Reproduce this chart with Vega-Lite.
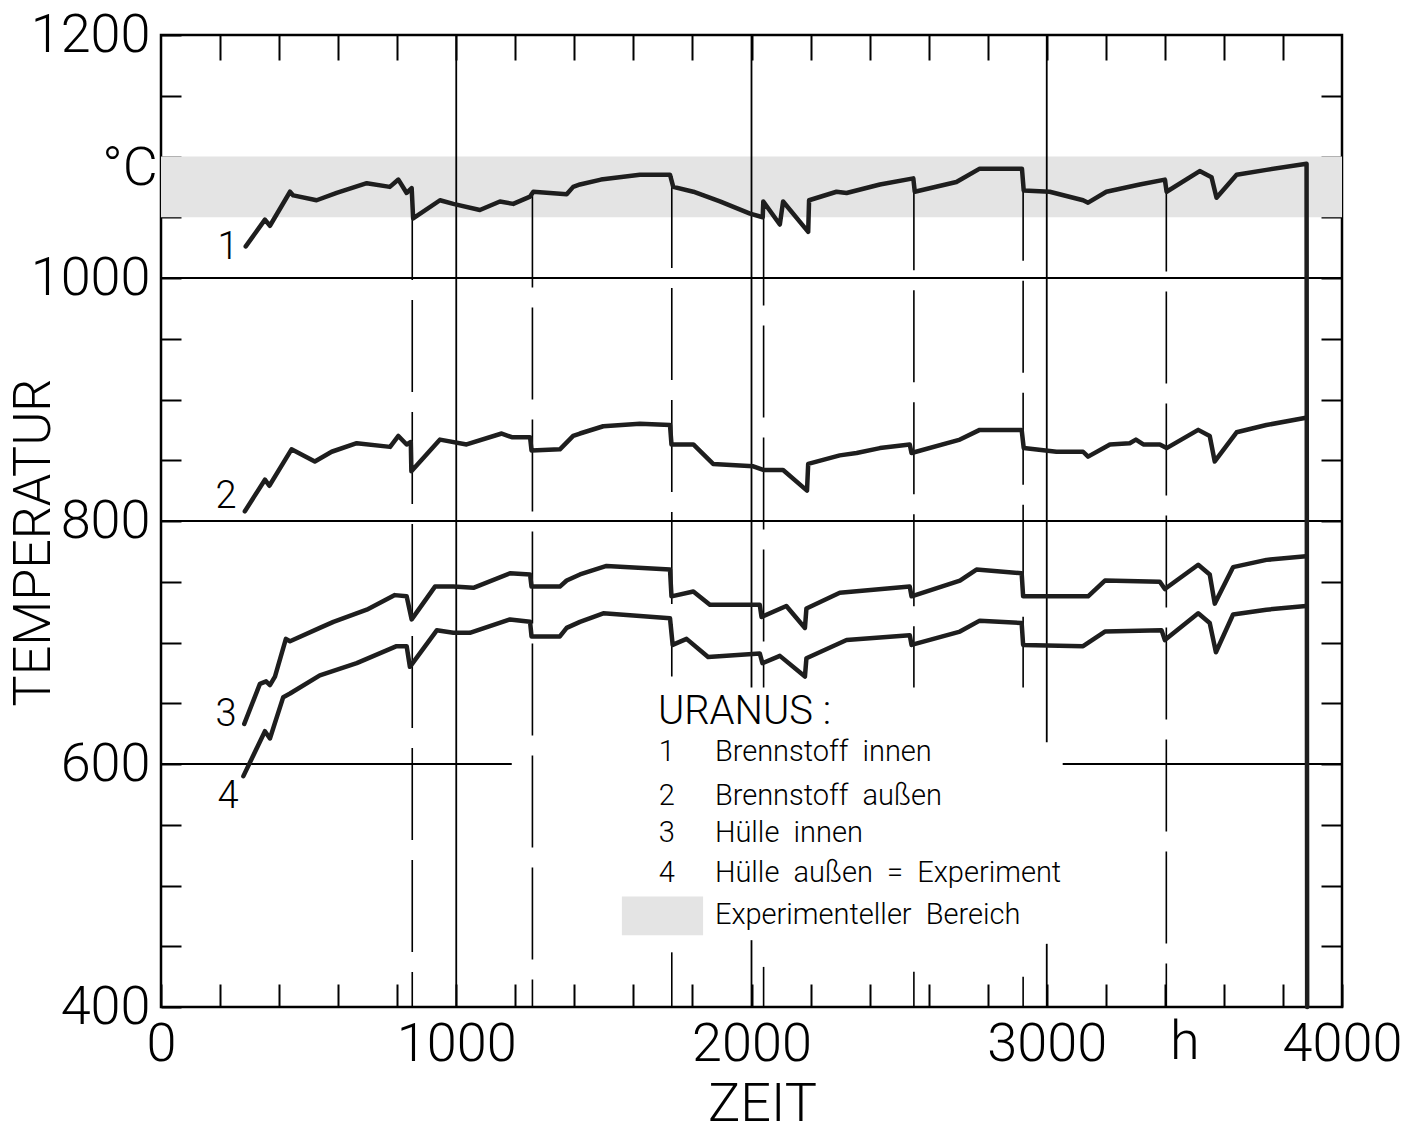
{
  "$schema": "https://vega.github.io/schema/vega-lite/v6.json",
  "width": 1181,
  "height": 972,
  "autosize": {"type": "none"},
  "padding": {"left": 161, "top": 35, "right": 71, "bottom": 126},
  "background": "white",
  "config": {
    "view": {"stroke": "black", "strokeWidth": 2.5},
    "font": "Roboto",
    "axis": {"domain": false, "grid": false, "tickColor": "black", "tickWidth": 2, "labelColor": "black", "titleColor": "black", "labelFont": "Roboto", "titleFont": "Roboto", "labelFontWeight": 300, "titleFontWeight": 300}
  },
  "datasets": {
    "band": [{"x0": 0, "x1": 4000, "t0": 1050, "t1": 1100}],
    "hgrid": [
      {"x0": 0, "x1": 4000, "t": 1000},
      {"x0": 0, "x1": 4000, "t": 800},
      {"x0": 0, "x1": 1188, "t": 600},
      {"x0": 3054, "x1": 4000, "t": 600}
    ],
    "vgrid": [
      {"h": 1000, "t0": 400, "t1": 1200},
      {"h": 2000, "t0": 663, "t1": 1200},
      {"h": 2000, "t0": 400, "t1": 455},
      {"h": 3000, "t0": 618, "t1": 1200},
      {"h": 3000, "t0": 400, "t1": 452}
    ],
    "breaks": [
      {"h": 851, "t0": 400, "t1": 1074},
      {"h": 1258, "t0": 400, "t1": 1068},
      {"h": 1730, "t0": 672, "t1": 1084},
      {"h": 1730, "t0": 400, "t1": 445},
      {"h": 2041, "t0": 663, "t1": 1053},
      {"h": 2041, "t0": 400, "t1": 433},
      {"h": 2550, "t0": 663, "t1": 1082},
      {"h": 2550, "t0": 400, "t1": 429},
      {"h": 2920, "t0": 663, "t1": 1090},
      {"h": 2920, "t0": 400, "t1": 425},
      {"h": 3405, "t0": 400, "t1": 1081}
    ],
    "temps": [
      {"s": "1", "h": 287, "t": 1026}, {"s": "1", "h": 352, "t": 1048}, {"s": "1", "h": 369, "t": 1043},
      {"s": "1", "h": 437, "t": 1071}, {"s": "1", "h": 448, "t": 1068}, {"s": "1", "h": 527, "t": 1064},
      {"s": "1", "h": 595, "t": 1070}, {"s": "1", "h": 697, "t": 1078}, {"s": "1", "h": 775, "t": 1075},
      {"s": "1", "h": 804, "t": 1081}, {"s": "1", "h": 832, "t": 1070}, {"s": "1", "h": 849, "t": 1074},
      {"s": "1", "h": 854, "t": 1049}, {"s": "1", "h": 945, "t": 1064}, {"s": "1", "h": 990, "t": 1061},
      {"s": "1", "h": 1080, "t": 1056}, {"s": "1", "h": 1148, "t": 1063}, {"s": "1", "h": 1193, "t": 1061},
      {"s": "1", "h": 1250, "t": 1067}, {"s": "1", "h": 1261, "t": 1071}, {"s": "1", "h": 1374, "t": 1069},
      {"s": "1", "h": 1396, "t": 1075}, {"s": "1", "h": 1419, "t": 1077}, {"s": "1", "h": 1490, "t": 1081},
      {"s": "1", "h": 1622, "t": 1085}, {"s": "1", "h": 1724, "t": 1085}, {"s": "1", "h": 1735, "t": 1075},
      {"s": "1", "h": 1803, "t": 1071}, {"s": "1", "h": 1893, "t": 1063}, {"s": "1", "h": 1995, "t": 1053},
      {"s": "1", "h": 2038, "t": 1050}, {"s": "1", "h": 2040, "t": 1063}, {"s": "1", "h": 2096, "t": 1044},
      {"s": "1", "h": 2107, "t": 1063}, {"s": "1", "h": 2192, "t": 1038}, {"s": "1", "h": 2195, "t": 1064},
      {"s": "1", "h": 2288, "t": 1071}, {"s": "1", "h": 2322, "t": 1070}, {"s": "1", "h": 2435, "t": 1077},
      {"s": "1", "h": 2548, "t": 1082}, {"s": "1", "h": 2553, "t": 1071}, {"s": "1", "h": 2694, "t": 1079},
      {"s": "1", "h": 2773, "t": 1090}, {"s": "1", "h": 2916, "t": 1090}, {"s": "1", "h": 2922, "t": 1072},
      {"s": "1", "h": 3010, "t": 1071}, {"s": "1", "h": 3123, "t": 1064}, {"s": "1", "h": 3140, "t": 1062},
      {"s": "1", "h": 3202, "t": 1071}, {"s": "1", "h": 3315, "t": 1077}, {"s": "1", "h": 3400, "t": 1081},
      {"s": "1", "h": 3406, "t": 1071}, {"s": "1", "h": 3518, "t": 1088}, {"s": "1", "h": 3558, "t": 1083},
      {"s": "1", "h": 3575, "t": 1066}, {"s": "1", "h": 3643, "t": 1085}, {"s": "1", "h": 3744, "t": 1089},
      {"s": "1", "h": 3880, "t": 1094}, {"s": "1", "h": 3882, "t": 400},

      {"s": "2", "h": 284, "t": 808}, {"s": "2", "h": 352, "t": 834}, {"s": "2", "h": 367, "t": 829},
      {"s": "2", "h": 442, "t": 859}, {"s": "2", "h": 521, "t": 849}, {"s": "2", "h": 578, "t": 857},
      {"s": "2", "h": 663, "t": 864}, {"s": "2", "h": 776, "t": 861}, {"s": "2", "h": 804, "t": 870},
      {"s": "2", "h": 832, "t": 863}, {"s": "2", "h": 846, "t": 865}, {"s": "2", "h": 848, "t": 841},
      {"s": "2", "h": 945, "t": 867}, {"s": "2", "h": 1035, "t": 863}, {"s": "2", "h": 1154, "t": 872},
      {"s": "2", "h": 1188, "t": 869}, {"s": "2", "h": 1250, "t": 869}, {"s": "2", "h": 1255, "t": 858},
      {"s": "2", "h": 1351, "t": 859}, {"s": "2", "h": 1396, "t": 870}, {"s": "2", "h": 1419, "t": 872},
      {"s": "2", "h": 1498, "t": 878}, {"s": "2", "h": 1622, "t": 880}, {"s": "2", "h": 1724, "t": 879},
      {"s": "2", "h": 1729, "t": 863}, {"s": "2", "h": 1803, "t": 863}, {"s": "2", "h": 1870, "t": 847},
      {"s": "2", "h": 2006, "t": 845}, {"s": "2", "h": 2040, "t": 842}, {"s": "2", "h": 2107, "t": 842},
      {"s": "2", "h": 2188, "t": 825}, {"s": "2", "h": 2192, "t": 847}, {"s": "2", "h": 2299, "t": 854},
      {"s": "2", "h": 2356, "t": 856}, {"s": "2", "h": 2435, "t": 860}, {"s": "2", "h": 2536, "t": 863},
      {"s": "2", "h": 2542, "t": 856}, {"s": "2", "h": 2706, "t": 867}, {"s": "2", "h": 2773, "t": 875},
      {"s": "2", "h": 2915, "t": 875}, {"s": "2", "h": 2922, "t": 860}, {"s": "2", "h": 3033, "t": 857},
      {"s": "2", "h": 3123, "t": 857}, {"s": "2", "h": 3140, "t": 853}, {"s": "2", "h": 3214, "t": 863},
      {"s": "2", "h": 3281, "t": 864}, {"s": "2", "h": 3302, "t": 867}, {"s": "2", "h": 3327, "t": 863},
      {"s": "2", "h": 3383, "t": 863}, {"s": "2", "h": 3406, "t": 860}, {"s": "2", "h": 3513, "t": 875},
      {"s": "2", "h": 3552, "t": 870}, {"s": "2", "h": 3569, "t": 849}, {"s": "2", "h": 3643, "t": 873},
      {"s": "2", "h": 3744, "t": 879}, {"s": "2", "h": 3878, "t": 885},

      {"s": "3", "h": 282, "t": 633}, {"s": "3", "h": 335, "t": 666}, {"s": "3", "h": 356, "t": 668},
      {"s": "3", "h": 369, "t": 665}, {"s": "3", "h": 386, "t": 672}, {"s": "3", "h": 423, "t": 703},
      {"s": "3", "h": 437, "t": 701}, {"s": "3", "h": 538, "t": 712}, {"s": "3", "h": 584, "t": 717},
      {"s": "3", "h": 697, "t": 727}, {"s": "3", "h": 792, "t": 739}, {"s": "3", "h": 832, "t": 738},
      {"s": "3", "h": 849, "t": 719}, {"s": "3", "h": 928, "t": 746}, {"s": "3", "h": 990, "t": 746},
      {"s": "3", "h": 1058, "t": 745}, {"s": "3", "h": 1182, "t": 757}, {"s": "3", "h": 1250, "t": 756},
      {"s": "3", "h": 1255, "t": 746}, {"s": "3", "h": 1351, "t": 746}, {"s": "3", "h": 1374, "t": 751},
      {"s": "3", "h": 1419, "t": 756}, {"s": "3", "h": 1509, "t": 763}, {"s": "3", "h": 1724, "t": 760},
      {"s": "3", "h": 1729, "t": 738}, {"s": "3", "h": 1803, "t": 742}, {"s": "3", "h": 1859, "t": 731},
      {"s": "3", "h": 2028, "t": 731}, {"s": "3", "h": 2034, "t": 721}, {"s": "3", "h": 2118, "t": 730},
      {"s": "3", "h": 2181, "t": 712}, {"s": "3", "h": 2186, "t": 728}, {"s": "3", "h": 2299, "t": 741},
      {"s": "3", "h": 2536, "t": 746}, {"s": "3", "h": 2542, "t": 738}, {"s": "3", "h": 2706, "t": 751},
      {"s": "3", "h": 2762, "t": 760}, {"s": "3", "h": 2915, "t": 757}, {"s": "3", "h": 2920, "t": 738},
      {"s": "3", "h": 3140, "t": 738}, {"s": "3", "h": 3197, "t": 751}, {"s": "3", "h": 3383, "t": 750},
      {"s": "3", "h": 3400, "t": 744}, {"s": "3", "h": 3513, "t": 764}, {"s": "3", "h": 3552, "t": 756},
      {"s": "3", "h": 3569, "t": 732}, {"s": "3", "h": 3631, "t": 762}, {"s": "3", "h": 3744, "t": 768},
      {"s": "3", "h": 3878, "t": 771},

      {"s": "4", "h": 279, "t": 590}, {"s": "4", "h": 352, "t": 627}, {"s": "4", "h": 369, "t": 621},
      {"s": "4", "h": 414, "t": 655}, {"s": "4", "h": 437, "t": 658}, {"s": "4", "h": 538, "t": 673},
      {"s": "4", "h": 663, "t": 683}, {"s": "4", "h": 798, "t": 697}, {"s": "4", "h": 832, "t": 697},
      {"s": "4", "h": 843, "t": 680}, {"s": "4", "h": 934, "t": 710}, {"s": "4", "h": 990, "t": 708},
      {"s": "4", "h": 1046, "t": 708}, {"s": "4", "h": 1182, "t": 719}, {"s": "4", "h": 1250, "t": 717},
      {"s": "4", "h": 1255, "t": 705}, {"s": "4", "h": 1351, "t": 705}, {"s": "4", "h": 1374, "t": 712},
      {"s": "4", "h": 1419, "t": 717}, {"s": "4", "h": 1498, "t": 724}, {"s": "4", "h": 1724, "t": 720},
      {"s": "4", "h": 1733, "t": 698}, {"s": "4", "h": 1780, "t": 703}, {"s": "4", "h": 1853, "t": 688},
      {"s": "4", "h": 2028, "t": 691}, {"s": "4", "h": 2037, "t": 683}, {"s": "4", "h": 2096, "t": 689},
      {"s": "4", "h": 2181, "t": 672}, {"s": "4", "h": 2186, "t": 687}, {"s": "4", "h": 2322, "t": 702},
      {"s": "4", "h": 2536, "t": 706}, {"s": "4", "h": 2542, "t": 698}, {"s": "4", "h": 2706, "t": 709},
      {"s": "4", "h": 2773, "t": 718}, {"s": "4", "h": 2915, "t": 716}, {"s": "4", "h": 2920, "t": 698},
      {"s": "4", "h": 3123, "t": 697}, {"s": "4", "h": 3197, "t": 709}, {"s": "4", "h": 3389, "t": 710},
      {"s": "4", "h": 3400, "t": 702}, {"s": "4", "h": 3513, "t": 724}, {"s": "4", "h": 3552, "t": 716},
      {"s": "4", "h": 3573, "t": 692}, {"s": "4", "h": 3631, "t": 723}, {"s": "4", "h": 3744, "t": 727},
      {"s": "4", "h": 3878, "t": 730}
    ],
    "curveLabels": [
      {"h": 227, "t": 1025, "txt": "1"},
      {"h": 220, "t": 820, "txt": "2"},
      {"h": 220, "t": 640, "txt": "3"},
      {"h": 227, "t": 573, "txt": "4"}
    ],
    "legendNums": [
      {"h": 1713, "t": 610, "txt": "1"},
      {"h": 1713, "t": 574, "txt": "2"},
      {"h": 1713, "t": 543, "txt": "3"},
      {"h": 1713, "t": 510, "txt": "4"}
    ],
    "legendTexts": [
      {"h": 1876, "t": 610, "txt": "Brennstoff\u00a0\u00a0innen"},
      {"h": 1876, "t": 574, "txt": "Brennstoff\u00a0\u00a0außen"},
      {"h": 1876, "t": 543, "txt": "Hülle\u00a0\u00a0innen"},
      {"h": 1876, "t": 510, "txt": "Hülle\u00a0\u00a0außen\u00a0\u00a0=\u00a0\u00a0Experiment"},
      {"h": 1876, "t": 476, "txt": "Experimenteller\u00a0\u00a0Bereich"}
    ],
    "legendSwatch": [{"x0": 1561, "x1": 1836, "t0": 459, "t1": 491}],
    "legendTitle": [{"h": 1683, "t": 643, "txt": "URANUS\u00a0:"}],
    "units": [
      {"h": -105, "t": 1090, "txt": "°C"},
      {"h": 3468, "t": 370, "txt": "h"}
    ]
  },
  "layer": [
    {
      "data": {"name": "band"},
      "mark": {"type": "rect", "fill": "#e4e4e4"},
      "encoding": {
        "x": {
          "field": "x0", "type": "quantitative",
          "scale": {"domain": [0, 4000], "nice": false, "zero": false},
          "axis": {
            "orient": "bottom",
            "values": [0, 200, 400, 600, 800, 1000, 1200, 1400, 1600, 1800, 2000, 2200, 2400, 2600, 2800, 3000, 3200, 3400, 3600, 3800, 4000],
            "format": "d",
            "labelExpr": "datum.value % 1000 === 0 ? datum.label : ''",
            "tickSize": -23,
            "labelPadding": 33,
            "labelFontSize": 54,
            "labelBaseline": "top",
            "labelFlush": false,
            "title": "ZEIT",
            "titleFontSize": 54,
            "titleX": 601,
            "titleY": 97,
            "titleBaseline": "middle"
          }
        },
        "x2": {"field": "x1"},
        "y": {
          "field": "t0", "type": "quantitative",
          "scale": {"domain": [400, 1200], "nice": false, "zero": false},
          "axis": {
            "orient": "left",
            "values": [400, 450, 500, 550, 600, 650, 700, 750, 800, 850, 900, 950, 1000, 1050, 1100, 1150, 1200],
            "format": "d",
            "labelExpr": "datum.value % 200 === 0 ? datum.label : ''",
            "tickSize": -20,
            "labelPadding": 31,
            "labelFontSize": 54,
            "labelFlush": false,
            "title": "TEMPERATUR",
            "titleFontSize": 52,
            "titleAngle": 270,
            "titleX": -128,
            "titleY": 507,
            "titleAlign": "center",
            "titleBaseline": "middle"
          }
        },
        "y2": {"field": "t1"}
      }
    },
    {
      "data": {"name": "hgrid"},
      "mark": {"type": "rule", "color": "black", "strokeWidth": 1.8},
      "encoding": {
        "x": {
          "field": "x0", "type": "quantitative",
          "axis": {
            "orient": "top",
            "values": [200, 400, 600, 800, 1000, 1200, 1400, 1600, 1800, 2000, 2200, 2400, 2600, 2800, 3000, 3200, 3400, 3600, 3800],
            "labels": false,
            "tickSize": -25,
            "title": null
          }
        },
        "x2": {"field": "x1"},
        "y": {
          "field": "t", "type": "quantitative",
          "axis": {
            "orient": "right",
            "values": [450, 500, 550, 600, 650, 700, 750, 800, 850, 900, 950, 1000, 1050, 1100, 1150],
            "labels": false,
            "tickSize": -21,
            "title": null
          }
        }
      }
    },
    {
      "data": {"name": "vgrid"},
      "mark": {"type": "rule", "color": "black", "strokeWidth": 1.8},
      "encoding": {
        "x": {"field": "h", "type": "quantitative", "axis": null},
        "y": {"field": "t0", "type": "quantitative", "axis": null},
        "y2": {"field": "t1"}
      }
    },
    {
      "data": {"name": "breaks"},
      "mark": {"type": "rule", "color": "black", "strokeWidth": 1.6, "strokeDash": [92, 20]},
      "encoding": {
        "x": {"field": "h", "type": "quantitative", "axis": null},
        "y": {"field": "t1", "type": "quantitative", "axis": null},
        "y2": {"field": "t0"}
      }
    },
    {
      "data": {"name": "temps"},
      "mark": {"type": "line", "color": "#1e1e1e", "strokeWidth": 4.5, "strokeJoin": "round", "strokeCap": "round"},
      "encoding": {
        "x": {"field": "h", "type": "quantitative", "axis": null},
        "y": {"field": "t", "type": "quantitative", "axis": null},
        "detail": {"field": "s", "type": "nominal"}
      }
    },
    {
      "data": {"name": "legendSwatch"},
      "mark": {"type": "rect", "fill": "#e4e4e4"},
      "encoding": {
        "x": {"field": "x0", "type": "quantitative", "axis": null},
        "x2": {"field": "x1"},
        "y": {"field": "t0", "type": "quantitative", "axis": null},
        "y2": {"field": "t1"}
      }
    },
    {
      "data": {"name": "curveLabels"},
      "mark": {"type": "text", "fontSize": 38, "fontWeight": 300, "color": "black", "align": "center", "baseline": "middle"},
      "encoding": {
        "x": {"field": "h", "type": "quantitative", "axis": null},
        "y": {"field": "t", "type": "quantitative", "axis": null},
        "text": {"field": "txt"}
      }
    },
    {
      "data": {"name": "legendTitle"},
      "mark": {"type": "text", "fontSize": 40, "fontWeight": 300, "color": "black", "align": "left", "baseline": "middle"},
      "encoding": {
        "x": {"field": "h", "type": "quantitative", "axis": null},
        "y": {"field": "t", "type": "quantitative", "axis": null},
        "text": {"field": "txt"}
      }
    },
    {
      "data": {"name": "legendNums"},
      "mark": {"type": "text", "fontSize": 29, "fontWeight": 300, "color": "black", "align": "center", "baseline": "middle"},
      "encoding": {
        "x": {"field": "h", "type": "quantitative", "axis": null},
        "y": {"field": "t", "type": "quantitative", "axis": null},
        "text": {"field": "txt"}
      }
    },
    {
      "data": {"name": "legendTexts"},
      "mark": {"type": "text", "fontSize": 29, "fontWeight": 300, "color": "black", "align": "left", "baseline": "middle"},
      "encoding": {
        "x": {"field": "h", "type": "quantitative", "axis": null},
        "y": {"field": "t", "type": "quantitative", "axis": null},
        "text": {"field": "txt"}
      }
    },
    {
      "data": {"name": "units"},
      "mark": {"type": "text", "fontSize": 54, "fontWeight": 300, "color": "black", "align": "center", "baseline": "middle"},
      "encoding": {
        "x": {"field": "h", "type": "quantitative", "axis": null},
        "y": {"field": "t", "type": "quantitative", "axis": null},
        "text": {"field": "txt"}
      }
    }
  ],
  "resolve": {"axis": {"x": "independent", "y": "independent"}}
}
